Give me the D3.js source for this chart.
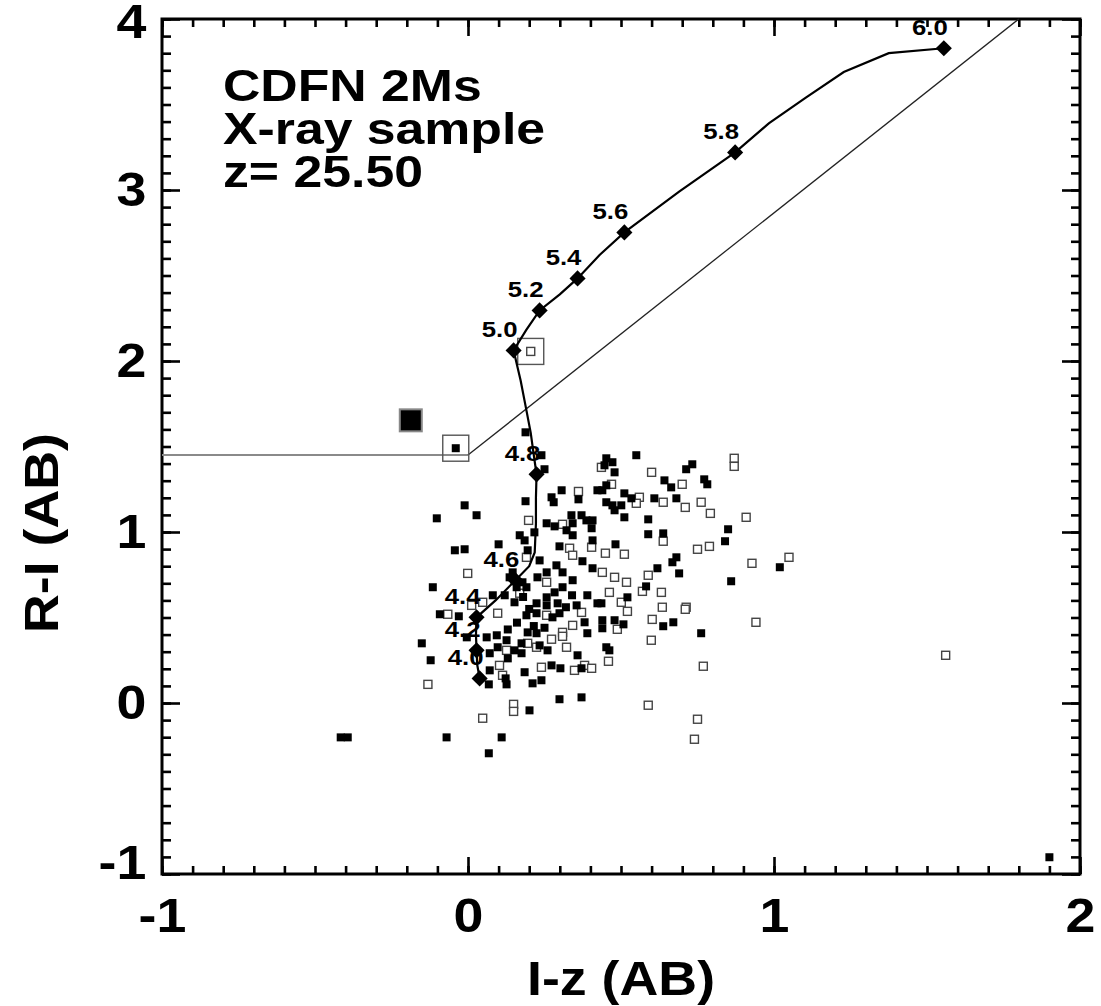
<!DOCTYPE html>
<html>
<head>
<meta charset="utf-8">
<script src="https://cdnjs.cloudflare.com/ajax/libs/d3/7.8.5/d3.min.js"></script>
<style>
body { margin: 0; background: #fff; }
text { font-family: "Liberation Sans", Arial, Helvetica, sans-serif; font-weight: bold; fill: #000; }
</style>
</head>
<body>
<svg id="chart" width="1101" height="1006"></svg>
<script>
var xTicks = [-1, 0, 1, 2];
var yTicks = [-1, 0, 1, 2, 3, 4];
var titleLines = ["CDFN 2Ms", "X-ray sample", "z= 25.50"];

// colour selection boundary
var cutX = [-1, 0.0, 1.80];
var cutY = [1.45, 1.45, 4.0];

// model track (redshift 4 -> 6)
var trackX = [0.038, 0.030, 0.028, 0.026, 0.028, 0.090, 0.155, 0.200, 0.218, 0.222, 0.222, 0.224,
              0.215, 0.205, 0.190, 0.172, 0.149, 0.190, 0.234, 0.300, 0.358, 0.430, 0.511, 0.690,
              0.873, 0.983, 1.104, 1.228, 1.375, 1.555];
var trackY = [0.144, 0.225, 0.308, 0.400, 0.501, 0.600, 0.718, 0.800, 0.880, 1.050, 1.200, 1.337,
              1.450, 1.580, 1.720, 1.886, 2.062, 2.180, 2.296, 2.390, 2.483, 2.620, 2.752, 2.990,
              3.220, 3.390, 3.540, 3.690, 3.800, 3.829];
var markZ = ["4.0", "4.2", "4.4", "4.6", "4.8", "5.0", "5.2", "5.4", "5.6", "5.8", "6.0"];
var markX = [0.038, 0.028, 0.028, 0.155, 0.224, 0.149, 0.234, 0.358, 0.511, 0.873, 1.555];
var markY = [0.144, 0.308, 0.501, 0.718, 1.337, 2.062, 2.296, 2.483, 2.752, 3.220, 3.829];

// X-ray sources, filled symbols
var filledX = [0.188, 0.240, 0.250, 0.306, 0.273, 0.280, 0.361, 0.423, 0.188, -0.011, 0.028, -0.102,
  0.217, 0.257, 0.283, 0.338, 0.342, 0.371, 0.387, 0.407, 0.404, 0.322, 0.342, 0.407, 0.169, 0.185,
  0.195, 0.100, -0.043, -0.011, 0.299, 0.374, 0.234, 0.289, 0.309, 0.342, 0.407, 0.257, 0.227, -0.115,
  0.136, 0.152, 0.178, 0.159, 0.191, 0.081, 0.152, 0.257, 0.283, 0.309, 0.224, 0.257, 0.293, 0.355,
  0.390, 0.423, 0.452, 0.472, 0.446, 0.479, 0.550, 0.642, 0.664, 0.713, 0.733, 0.772, 0.782, 0.452,
  0.439, 0.511, 0.534, 0.452, 0.472, 0.501, 0.479, 0.511, 0.609, 0.681, 0.589, 0.589, 0.638, 0.850,
  0.840, 0.482, 0.681, 0.668, 0.619, 0.690, 1.019, 0.860, 0.582, 0.521, 0.436, -0.092, -0.030, 0.191,
  0.224, 0.276, 0.299, 0.381, 0.390, -0.004, 0.061, 0.094, 0.126, 0.195, 0.224, 0.175, 0.152, 0.175,
  0.097, 0.234, 0.260, 0.071, -0.151, -0.122, 0.130, 0.071, 0.068, 0.123, 0.126, 0.185, 0.211, 0.240,
  0.273, 0.302, 0.371, 0.358, 0.299, 0.371, 0.201, -0.070, 0.110, 0.068, 0.439, 0.439, 0.479, 0.508,
  0.638, 0.671, 0.762, 0.452, 0.462, -0.416, -0.393, 1.900, 0.146, 0.120,
  0.180, 0.200, 0.215, 0.160, 0.130, 0.250, 0.320, 0.340];
var filledY = [1.583, 1.449, 1.367, 1.244, 1.203, 1.174, 1.191, 1.244, 1.180, 1.156, 1.098, 1.080,
  0.998, 1.051, 1.033, 1.098, 1.051, 1.098, 1.068, 1.068, 1.022, 1.010, 0.981, 0.951, 0.981, 0.951,
  0.893, 0.928, 0.893, 0.899, 0.916, 0.829, 0.834, 0.805, 0.764, 0.718, 0.788, 0.764, 0.735, 0.677,
  0.735, 0.718, 0.706, 0.677, 0.677, 0.630, 0.589, 0.618, 0.647, 0.677, 0.583, 0.571, 0.583, 0.571,
  0.630, 0.583, 1.431, 1.408, 1.390, 1.349, 1.449, 1.302, 1.261, 1.367, 1.396, 1.308, 1.279, 1.273,
  1.244, 1.226, 1.197, 1.174, 1.156, 1.156, 1.127, 1.086, 1.197, 1.197, 1.074, 0.987, 0.992, 1.016,
  0.946, 0.928, 0.852, 0.823, 0.788, 0.758, 0.794, 0.712, 0.682, 0.618, 0.583, 0.519, 0.507, 0.513,
  0.525, 0.501, 0.525, 0.472, 0.408, 0.384, 0.384, 0.396, 0.367, 0.413, 0.408, 0.349, 0.308, 0.291,
  0.326, 0.337, 0.308, 0.291, 0.349, 0.250, 0.261, 0.191, 0.109, 0.144, 0.109, 0.180, 0.115, 0.133,
  0.220, 0.203, 0.203, 0.279, 0.022, 0.033, -0.043, -0.201, -0.201, -0.294, 0.484, 0.437, 0.484, 0.460,
  0.449, 0.472, 0.408, 0.326, 0.308, -0.201, -0.201, -0.902, 0.764, 0.630,
  0.620, 0.550, 0.450, 0.470, 0.430, 0.440, 0.560, 0.630];

// X-ray sources, open symbols
var openX = [0.361, 0.198, 0.309, 0.404, 0.332, 0.342, 0.191, 0.257, -0.001, 0.169, 0.012, 0.048,
  0.600, 0.700, 0.870, 0.870, 0.469, 0.560, 0.550, 0.638, 0.710, 0.762, 0.792, 0.909, 0.638, 0.789,
  0.750, 0.449, 0.511, 0.589, 0.928, 1.049, 0.439, 0.479, 0.518, 0.570, 0.632, 0.462, 0.501, 0.635,
  0.713, -0.066, 0.097, 0.257, 0.371, 0.342, 0.309, 0.309, 0.273, 0.322, 0.195, 0.126, 0.224, 0.103,
  0.113, 0.240, 0.348, 0.381, 0.404, -0.131, 0.149, 0.149, 0.048, 0.521, 0.488, 0.710, 0.602, 0.599,
  0.941, 0.459, 0.769, 0.589, 0.750, 0.740, 1.561, 0.436];
var openY = [1.237, 1.068, 1.045, 0.911, 0.905, 0.864, 0.852, 0.706, 0.758, 0.642, 0.571, 0.589,
  1.349, 1.279, 1.431, 1.384, 1.279, 1.203, 1.168, 1.174, 1.144, 1.174, 1.109, 1.086, 0.946, 0.916,
  0.899, 0.876, 0.870, 0.747, 0.817, 0.852, 0.764, 0.735, 0.706, 0.653, 0.647, 0.647, 0.589, 0.560,
  0.560, 0.519, 0.525, 0.513, 0.530, 0.454, 0.413, 0.390, 0.373, 0.326, 0.349, 0.308, 0.326, 0.220,
  0.162, 0.209, 0.191, 0.220, 0.203, 0.109, -0.008, -0.049, -0.089, 0.536, 0.431, 0.548, 0.489, 0.367,
  0.472, 0.244, 0.215, -0.013, -0.095, -0.212, 0.279, 1.378];

// highlighted sources
var bigX = [-0.187], bigY = [1.653];
var boxX = [-0.040, 0.205], boxY = [1.490, 2.056], boxKind = ["filled", "open"];

var svg = d3.select("#chart");
var x = d3.scaleLinear().domain([-1, 2]).range([162, 1080]);
var y = d3.scaleLinear().domain([-1, 4]).range([874, 19]);
var stretch = "scale(1.12,1)";

var minorX = d3.range(-10, 21).map(function(d) { return d / 10; });
var minorY = d3.range(-10, 41).map(function(d) { return d / 10; });

function axisStyle(g) {
  g.select(".domain").remove();
  g.selectAll("line").attr("stroke", "#000").attr("stroke-width", 2.6);
  g.selectAll("text").attr("font-size", 48).attr("fill", "#000").attr("transform", stretch);
}

// minor ticks on all four sides
svg.append("g").attr("transform", "translate(0,874)")
  .call(d3.axisBottom(x).tickValues(minorX).tickSizeInner(-8).tickSizeOuter(0).tickFormat(""))
  .call(axisStyle);
svg.append("g").attr("transform", "translate(0,19)")
  .call(d3.axisTop(x).tickValues(minorX).tickSizeInner(-8).tickSizeOuter(0).tickFormat(""))
  .call(axisStyle);
svg.append("g").attr("transform", "translate(162,0)")
  .call(d3.axisLeft(y).tickValues(minorY).tickSizeInner(-9).tickSizeOuter(0).tickFormat(""))
  .call(axisStyle);
svg.append("g").attr("transform", "translate(1080,0)")
  .call(d3.axisRight(y).tickValues(minorY).tickSizeInner(-9).tickSizeOuter(0).tickFormat(""))
  .call(axisStyle);

// major ticks + labels
svg.append("g").attr("transform", "translate(0,874)")
  .call(d3.axisBottom(x).tickValues(xTicks).tickSizeInner(-17).tickSizeOuter(0).tickPadding(24)
    .tickFormat(function(d) { return String(d); }))
  .call(axisStyle);
svg.append("g").attr("transform", "translate(0,19)")
  .call(d3.axisTop(x).tickValues(xTicks).tickSizeInner(-17).tickSizeOuter(0).tickFormat(""))
  .call(axisStyle);
var yAxisG = svg.append("g").attr("transform", "translate(162,0)")
  .call(d3.axisLeft(y).tickValues(yTicks).tickSizeInner(-18).tickSizeOuter(0).tickPadding(14)
    .tickFormat(function(d) { return String(d); }))
  .call(axisStyle);
yAxisG.selectAll(".tick").filter(function(d) { return d === -1; })
  .select("text").attr("dy", "0.1em");
yAxisG.selectAll(".tick").filter(function(d) { return d === 4; })
  .select("text").attr("dy", "0.38em");
svg.append("g").attr("transform", "translate(1080,0)")
  .call(d3.axisRight(y).tickValues(yTicks).tickSizeInner(-18).tickSizeOuter(0).tickFormat(""))
  .call(axisStyle);

// frame
svg.append("rect")
  .attr("x", x(-1)).attr("y", y(4))
  .attr("width", x(2) - x(-1)).attr("height", y(-1) - y(4))
  .attr("fill", "none").attr("stroke", "#000").attr("stroke-width", 3);

// axis titles
svg.append("text")
  .attr("transform", "translate(621,995) " + stretch)
  .attr("text-anchor", "middle").attr("font-size", 48)
  .text("I-z (AB)");
svg.append("text")
  .attr("transform", "translate(58,533) rotate(-90) " + stretch)
  .attr("text-anchor", "middle").attr("font-size", 48)
  .text("R-I (AB)");

// annotation block
svg.selectAll(".title").data(titleLines).enter().append("text")
  .attr("class", "title")
  .attr("transform", function(d, i) { return "translate(223," + (101 + i * 43) + ") scale(1.15,1)"; })
  .attr("font-size", 45)
  .text(function(d) { return d; });

// selection boundary
var cut = cutX.map(function(d, i) { return [d, cutY[i]]; });
svg.append("path")
  .attr("d", d3.line().x(function(d) { return x(d[0]); }).y(function(d) { return y(d[1]); })(cut.slice(0, 2)))
  .attr("fill", "none").attr("stroke", "#8a8a8a").attr("stroke-width", 2);
svg.append("path")
  .attr("d", d3.line().x(function(d) { return x(d[0]); }).y(function(d) { return y(d[1]); })(cut.slice(1)))
  .attr("fill", "none").attr("stroke", "#222").attr("stroke-width", 1.3);

// sources
var sq = 8;
var openPts = openX.map(function(d, i) { return [d, openY[i]]; });
svg.selectAll(".open").data(openPts).enter().append("rect")
  .attr("class", "open")
  .attr("x", function(d) { return x(d[0]) - sq / 2; })
  .attr("y", function(d) { return y(d[1]) - sq / 2; })
  .attr("width", sq).attr("height", sq)
  .attr("fill", "#fff").attr("stroke", "#444").attr("stroke-width", 1.4);

var filledPts = filledX.map(function(d, i) { return [d, filledY[i]]; });
svg.selectAll(".filled").data(filledPts).enter().append("rect")
  .attr("class", "filled")
  .attr("x", function(d) { return x(d[0]) - sq / 2; })
  .attr("y", function(d) { return y(d[1]) - sq / 2; })
  .attr("width", sq).attr("height", sq)
  .attr("fill", "#000");

// highlighted
svg.selectAll(".big").data(bigX).enter().append("rect")
  .attr("class", "big")
  .attr("x", function(d) { return x(d) - 11; })
  .attr("y", function(d, i) { return y(bigY[i]) - 11; })
  .attr("width", 22).attr("height", 22)
  .attr("fill", "#000").attr("stroke", "#888").attr("stroke-width", 2);

svg.selectAll(".box").data(boxX).enter().append("rect")
  .attr("class", "box")
  .attr("x", function(d) { return x(d) - 13; })
  .attr("y", function(d, i) { return y(boxY[i]) - 13; })
  .attr("width", 26).attr("height", 26)
  .attr("fill", "none").attr("stroke", "#555").attr("stroke-width", 1.4);
svg.selectAll(".boxin").data(boxX).enter().append("rect")
  .attr("class", "boxin")
  .attr("x", function(d) { return x(d) - sq / 2; })
  .attr("y", function(d, i) { return y(boxY[i]) - sq / 2; })
  .attr("width", sq).attr("height", sq)
  .attr("fill", function(d, i) { return boxKind[i] === "filled" ? "#000" : "#fff"; })
  .attr("stroke", function(d, i) { return boxKind[i] === "filled" ? "none" : "#444"; })
  .attr("stroke-width", 1.4);

// track
var track = trackX.map(function(d, i) { return [d, trackY[i]]; });
svg.append("path")
  .attr("d", d3.line().x(function(d) { return x(d[0]); }).y(function(d) { return y(d[1]); })(track))
  .attr("fill", "none").attr("stroke", "#000").attr("stroke-width", 2.2);

svg.selectAll(".mark").data(markZ).enter().append("path")
  .attr("class", "mark")
  .attr("d", d3.symbol(d3.symbolSquare).size(130))
  .attr("transform", function(d, i) { return "translate(" + x(markX[i]) + "," + y(markY[i]) + ") rotate(45)"; })
  .attr("fill", "#000");

svg.selectAll(".zlab").data(markZ).enter().append("text")
  .attr("class", "zlab")
  .attr("transform", function(d, i) { return "translate(" + (x(markX[i]) - 14) + "," + (y(markY[i]) - 13) + ") " + stretch; })
  .attr("text-anchor", "middle").attr("font-size", 23)
  .text(function(d) { return d; });
</script>
</body>
</html>
